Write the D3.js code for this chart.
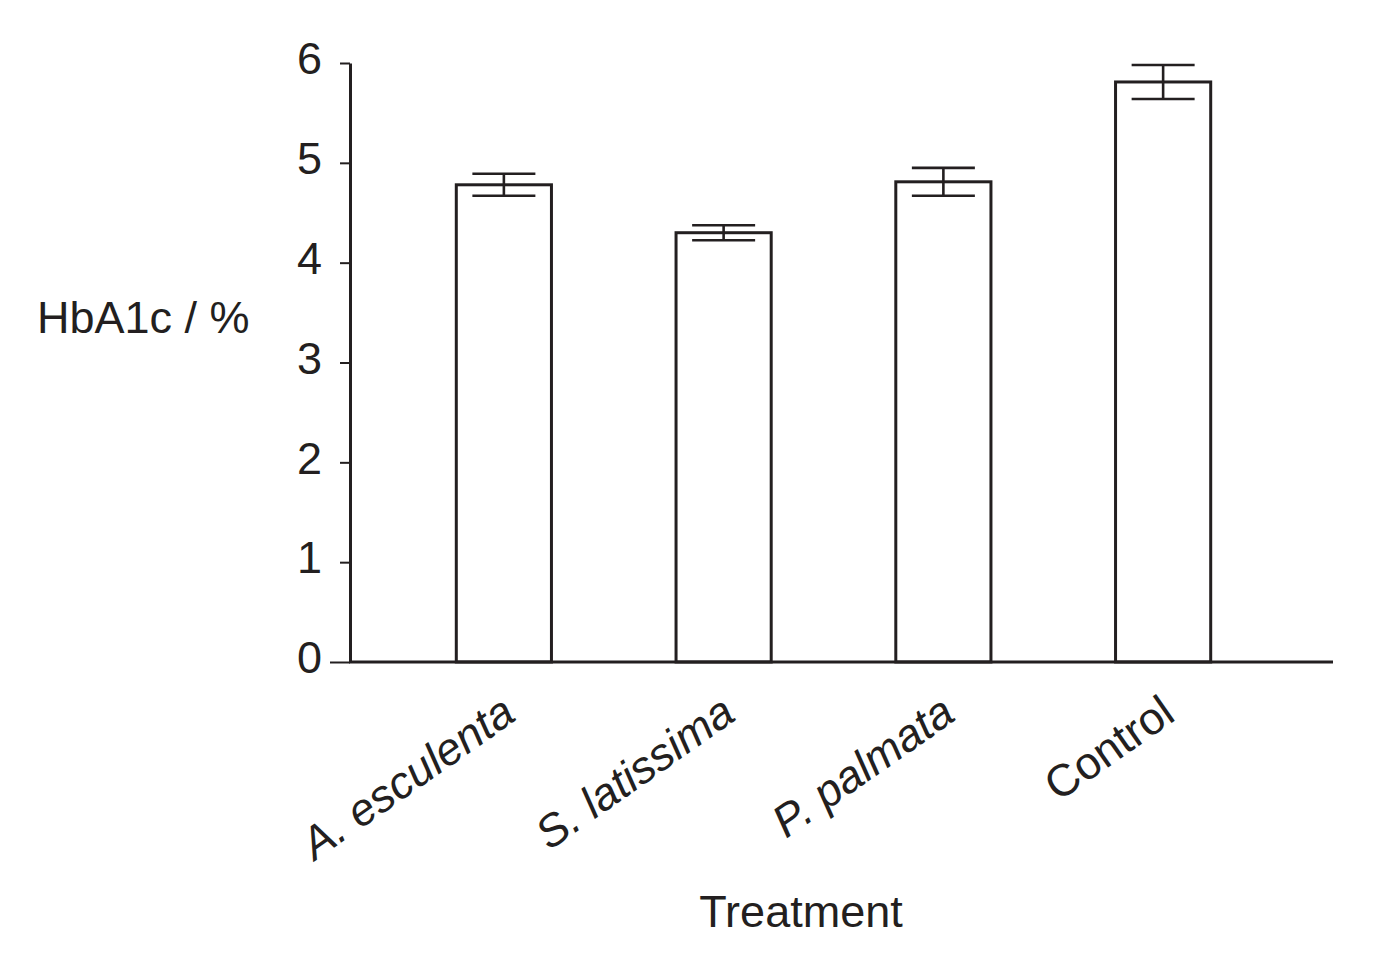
<!DOCTYPE html>
<html>
<head>
<meta charset="utf-8">
<script src="https://cdn.jsdelivr.net/npm/d3@7"></script>
<style>
	body { margin: 0; background: #fff; }
	svg text { font-family: "Liberation Sans", Arial, sans-serif; fill: #231f20; }
</style>
</head>
<body>
<svg class="chart"></svg>
<script>

// data
var categories = ["A. esculenta", "S. latissima", "P. palmata", "Control"];
var italicCats = [true, true, true, false];
var hba1c = [4.78, 4.30, 4.81, 5.81];
var sem = [0.11, 0.075, 0.14, 0.17];
var yTicks = [0, 1, 2, 3, 4, 5, 6];

var width = 1380;
var height = 963;
var ink = "#231f20";

var data = categories.map((c, i) => ({ name: c, value: hba1c[i], err: sem[i], italic: italicCats[i] }));

var svg = d3.select(".chart")
	.attr("width", width)
	.attr("height", height);

// >
var x = d3.scaleBand()
	.domain(categories)
	.range([394, 1273])
	.paddingInner(0.567)
	.paddingOuter(0.2835);

// ^
var y = d3.scaleLinear()
	.domain([0, 6])
	.range([662, 63]);

var yAxis = g => g
	.attr("transform", "translate(350,0)")
	.call(d3.axisLeft(y)
		.tickValues(yTicks)
		.tickFormat(d3.format("d"))
		.tickSize(10)
		.tickPadding(18)
		.tickSizeOuter(0))
	.call(g => g.select(".domain").attr("stroke", ink).attr("stroke-width", 3))
	.call(g => g.selectAll(".tick line").attr("stroke", ink).attr("stroke-width", 2))
	.call(g => g.selectAll(".tick line").filter(d => d === 0).attr("x2", -20))
	.call(g => g.selectAll(".tick text")
		.attr("font-size", 45)
		.attr("dy", "0.24em")
		.attr("font-family", "Liberation Sans, Arial, sans-serif")
		.attr("fill", ink));

// bars
svg.append("g")
	.selectAll("rect").data(data).enter().append("rect")
		.attr("x", d => x(d.name))
		.attr("y", d => y(d.value))
		.attr("width", x.bandwidth())
		.attr("height", d => y(0) - y(d.value))
		.attr("fill", "#fff")
		.attr("stroke", ink)
		.attr("stroke-width", 3);

// error bars
var capW = 63;
var eb = svg.append("g")
	.attr("stroke", ink)
	.attr("stroke-width", 2.6)
	.selectAll("g").data(data).enter().append("g");

eb.append("line")
	.attr("x1", d => x(d.name) + x.bandwidth() / 2)
	.attr("x2", d => x(d.name) + x.bandwidth() / 2)
	.attr("y1", d => y(d.value + d.err))
	.attr("y2", d => y(d.value - d.err));

eb.append("line")
	.attr("x1", d => x(d.name) + x.bandwidth() / 2 - capW / 2)
	.attr("x2", d => x(d.name) + x.bandwidth() / 2 + capW / 2)
	.attr("y1", d => y(d.value + d.err))
	.attr("y2", d => y(d.value + d.err));

eb.append("line")
	.attr("x1", d => x(d.name) + x.bandwidth() / 2 - capW / 2)
	.attr("x2", d => x(d.name) + x.bandwidth() / 2 + capW / 2)
	.attr("y1", d => y(d.value - d.err))
	.attr("y2", d => y(d.value - d.err));

// x baseline
svg.append("line")
	.attr("x1", 349)
	.attr("x2", 1333)
	.attr("y1", y(0))
	.attr("y2", y(0))
	.attr("stroke", ink)
	.attr("stroke-width", 3);

svg.append("g")
	.call(yAxis);

// rotated category labels
svg.append("g")
	.selectAll("text").data(data).enter().append("text")
		.attr("transform", d => `translate(${x(d.name) + x.bandwidth() / 2 + 14},719) rotate(-35)`)
		.attr("text-anchor", "end")
		.attr("font-size", 45)
		.attr("font-style", d => d.italic ? "italic" : "normal")
		.text(d => d.name);

// axis titles
svg.append("text")
	.attr("x", 37)
	.attr("y", 333)
	.attr("font-size", 45)
	.text("HbA1c / %");

svg.append("text")
	.attr("x", 801)
	.attr("y", 927)
	.attr("text-anchor", "middle")
	.attr("font-size", 45)
	.text("Treatment");

</script>
</body>
</html>
